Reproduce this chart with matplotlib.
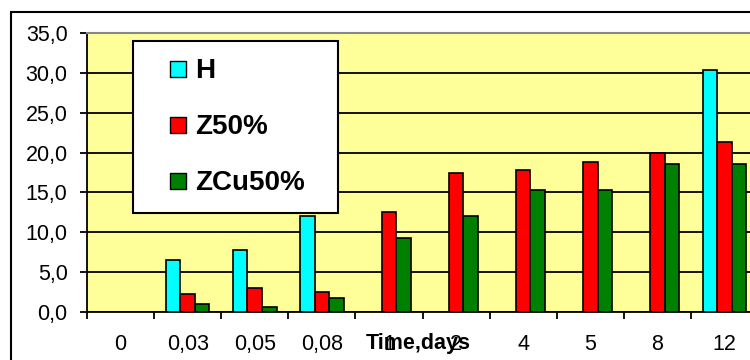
import numpy as np
import matplotlib
matplotlib.use("Agg")
import matplotlib.pyplot as plt
from matplotlib.lines import Line2D
from matplotlib.patches import Rectangle
from matplotlib.ticker import FuncFormatter, FixedLocator

plt.rcParams['font.family'] = ['Liberation Sans', 'DejaVu Sans']

categories = ['0', '0,03', '0,05', '0,08', '1', '2', '4', '5', '8', '12']
series_names = ['H', 'Z50%', 'ZCu50%']
H = [np.nan, 6.5, 7.75, 12.0, np.nan, np.nan, np.nan, np.nan, np.nan, 30.3]
Z50 = [np.nan, 2.2, 3.0, 2.5, 12.5, 17.4, 17.8, 18.8, 20.0, 21.3]
ZCu50 = [np.nan, 1.0, 0.6, 1.8, 9.3, 12.0, 15.25, 15.25, 18.6, 18.6]
colors = ['#00FFFF', '#FF0000', '#008000']
yticks = [0, 5, 10, 15, 20, 25, 30, 35]

W, Hpx = 750, 360
fig = plt.figure(figsize=(7.5, 3.6), dpi=100)

# outer chart border
fig.patches.append(Rectangle((11 / W, -0.05), 1.2, 1 - 12 / Hpx + 0.05,
                             transform=fig.transFigure, fill=False,
                             edgecolor='black', linewidth=1.5, zorder=0))

left, right, top, bottom = 87, 758, 33, 312
ax = fig.add_axes([left / W, 1 - bottom / Hpx, (right - left) / W, (bottom - top) / Hpx])
ax.set_facecolor('#FFFF99')

x = np.arange(len(categories))
bw = 0.217
for i, (vals, c, name) in enumerate(zip([H, Z50, ZCu50], colors, series_names)):
    ax.bar(x + (i - 1) * bw, vals, width=bw, color=c, edgecolor='black',
           linewidth=1.2, label=name, zorder=3)

ax.set_xlim(-0.5, len(categories) - 0.5)
ax.set_ylim(0, 35)
ax.set_yticks(yticks)
ax.yaxis.set_major_formatter(FuncFormatter(lambda v, p: f"{v:.1f}".replace('.', ',')))
ax.yaxis.grid(True, color='black', linewidth=1.3, zorder=1)
ax.set_axisbelow(True)

ax.set_xticks(x)
ax.set_xticklabels(categories)
ax.xaxis.set_minor_locator(FixedLocator(np.arange(-0.5, len(categories), 1.0)))
ax.tick_params(axis='x', which='major', length=0, pad=16, labelsize=15.5)
ax.tick_params(axis='x', which='minor', length=5, width=1.3, direction='out', color='black')
ax.tick_params(axis='y', length=5, width=1.3, direction='out', pad=9, labelsize=15.5)

ax.spines['right'].set_visible(False)
ax.spines['top'].set_color('#888888')
ax.spines['top'].set_linewidth(1.5)
ax.spines['left'].set_linewidth(1.3)
ax.spines['bottom'].set_linewidth(1.3)

ax.set_xlabel('Time,days', fontsize=15.5, fontweight='bold', va='center')
ax.xaxis.set_label_coords((418 - left) / (right - left), -31 / (bottom - top))

handles = [Line2D([], [], linestyle='none', marker='s', markersize=11.5,
                  markerfacecolor=c, markeredgecolor='black', markeredgewidth=1.0)
           for c in colors]
leg = fig.legend(handles, series_names, loc='upper left',
                 bbox_to_anchor=(133 / W, 0, 205 / W, 1 - 41 / Hpx),
                 bbox_transform=fig.transFigure, mode='expand',
                 prop={'size': 20, 'weight': 'bold'}, frameon=True, fancybox=False,
                 edgecolor='black', framealpha=1, borderpad=0.62, labelspacing=1.08,
                 handlelength=2.0, handletextpad=-0.4, borderaxespad=0)
leg.get_frame().set_linewidth(1.5)

fig.savefig('out.png', dpi=100)
